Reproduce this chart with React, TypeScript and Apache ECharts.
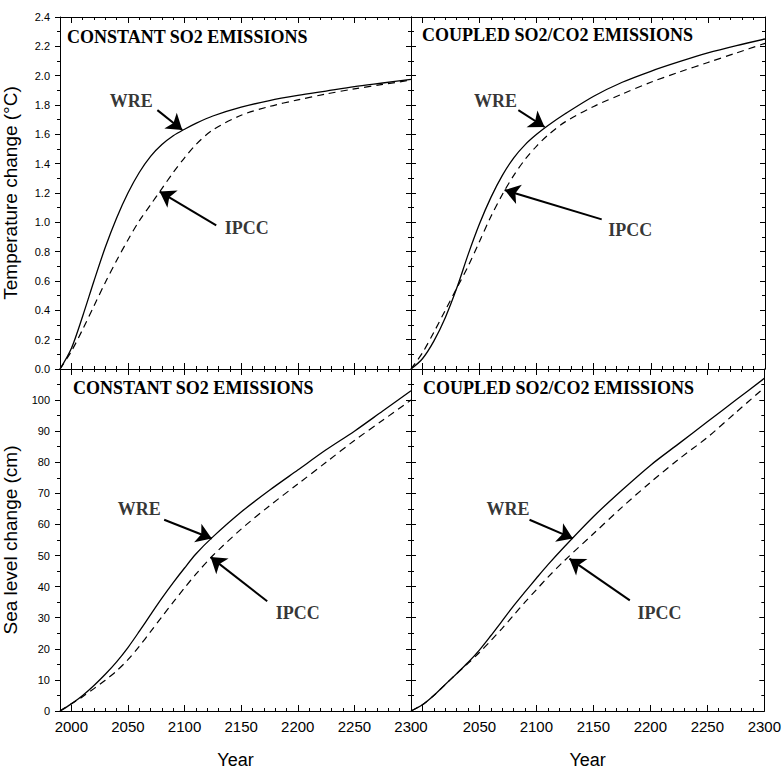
import React, { useEffect, useRef } from "react";
import * as echarts from "echarts";

// ---- data ----
const YEARS = [1990, 2000, 2010, 2020, 2030, 2040, 2050, 2060, 2070, 2080, 2090, 2100, 2110, 2125, 2150, 2175, 2200, 2225, 2250, 2275, 2300];

const TEMP_CONST_WRE = [0, 0.14, 0.36, 0.6, 0.83, 1.03, 1.2, 1.34, 1.45, 1.53, 1.59, 1.635, 1.675, 1.725, 1.785, 1.83, 1.865, 1.895, 1.925, 1.95, 1.975];
const TEMP_CONST_IPCC = [0, 0.12, 0.27, 0.43, 0.59, 0.74, 0.88, 1.01, 1.12, 1.23, 1.34, 1.44, 1.53, 1.63, 1.73, 1.79, 1.835, 1.875, 1.91, 1.94, 1.97];

const TEMP_COUPLED_WRE = [0, 0.07, 0.19, 0.35, 0.55, 0.78, 0.99, 1.17, 1.32, 1.44, 1.53, 1.6, 1.66, 1.74, 1.86, 1.955, 2.03, 2.095, 2.155, 2.205, 2.25];
const TEMP_COUPLED_IPCC = [0, 0.11, 0.25, 0.4, 0.55, 0.7, 0.87, 1.04, 1.19, 1.32, 1.43, 1.52, 1.595, 1.685, 1.79, 1.875, 1.955, 2.025, 2.09, 2.155, 2.22];

const SEA_CONST_WRE = [0, 2.3, 5, 8.2, 11.8, 15.8, 20.4, 25.6, 31, 36.3, 41.3, 46, 50.5, 56, 64, 71, 77.5, 84, 90, 96.5, 103];
const SEA_CONST_IPCC = [0, 2.3, 4.6, 7.2, 9.9, 12.9, 16.5, 20.8, 25.5, 30.3, 35, 39.6, 44, 50, 58.5, 66, 73, 80, 87, 93.5, 100];

const SEA_COUPLED_WRE = [0, 2, 5, 8.5, 12, 15.6, 19.6, 24.2, 29, 33.8, 38.3, 42.7, 47, 53, 62.5, 71, 79, 86, 93, 100, 107];
const SEA_COUPLED_IPCC = [0, 2, 5, 8.5, 12, 15.3, 18.8, 22.6, 26.6, 30.8, 35, 39, 43, 48.5, 57, 65.5, 73.5, 81, 88, 96, 104];

const X_MAJOR = [2000, 2050, 2100, 2150, 2200, 2250, 2300];
const X_MINOR = [2000, 2010, 2020, 2030, 2040, 2050, 2060, 2070, 2080, 2090, 2100, 2110, 2120, 2130, 2140, 2150, 2160, 2170, 2180, 2190, 2200, 2210, 2220, 2230, 2240, 2250, 2260, 2270, 2280, 2290, 2300];
const X_LABELS_LEFT = [2000, 2050, 2100, 2150, 2200, 2250, 2300];
const X_LABELS_RIGHT = [2050, 2100, 2150, 2200, 2250, 2300];

// annotation anchors in data space: [label, tail, tip]
const NOTE_TL_WRE = [[2053, 1.83], [2076, 1.765], [2098, 1.63]];
const NOTE_TL_IPCC = [[2155, 0.96], [2128, 0.98], [2078, 1.21]];
const NOTE_TR_WRE = [[2064, 1.83], [2084, 1.765], [2107, 1.65]];
const NOTE_TR_IPCC = [[2182, 0.95], [2157, 1.02], [2072, 1.22]];
const NOTE_BL_WRE = [[2060, 65], [2082, 61.5], [2124, 55.5]];
const NOTE_BL_IPCC = [[2200, 31.5], [2173, 35.3], [2123, 49.5]];
const NOTE_BR_WRE = [[2075, 65], [2094, 61.5], [2132, 55.5]];
const NOTE_BR_IPCC = [[2208, 31.5], [2182, 35.6], [2129, 49]];

const SANS = "Liberation Sans, Arial, sans-serif";
const SERIF = "Liberation Serif, Times New Roman, serif";

function pairs(vals: number[]) {
  return YEARS.map((y, i) => [y, vals[i]]);
}

type Panel = {
  grid: { left: number; top: number; width: number; height: number };
  yMax: number;
  yInt: number;
  wre: number[];
  ipcc: number[];
  leftSide: boolean;
  bottomRow: boolean;
  xLabels: number[];
  yName: string;
  title: string;
  titlePos: [number, number];
  noteWre: number[][];
  noteIpcc: number[][];
};

const panels: Panel[] = [
  { grid: { left: 60, top: 17, width: 351, height: 352 }, yMax: 2.4, yInt: 0.2, wre: TEMP_CONST_WRE, ipcc: TEMP_CONST_IPCC, leftSide: true, bottomRow: false, xLabels: X_LABELS_LEFT, yName: "Temperature change (°C)", title: "CONSTANT SO2 EMISSIONS", titlePos: [67, 28], noteWre: NOTE_TL_WRE, noteIpcc: NOTE_TL_IPCC },
  { grid: { left: 411, top: 17, width: 354, height: 352 }, yMax: 2.4, yInt: 0.2, wre: TEMP_COUPLED_WRE, ipcc: TEMP_COUPLED_IPCC, leftSide: false, bottomRow: false, xLabels: X_LABELS_RIGHT, yName: "", title: "COUPLED SO2/CO2 EMISSIONS", titlePos: [422, 26], noteWre: NOTE_TR_WRE, noteIpcc: NOTE_TR_IPCC },
  { grid: { left: 60, top: 369, width: 351, height: 348 }, yMax: 110, yInt: 10, wre: SEA_CONST_WRE, ipcc: SEA_CONST_IPCC, leftSide: true, bottomRow: true, xLabels: X_LABELS_LEFT, yName: "Sea level change (cm)", title: "CONSTANT SO2 EMISSIONS", titlePos: [73, 379], noteWre: NOTE_BL_WRE, noteIpcc: NOTE_BL_IPCC },
  { grid: { left: 411, top: 369, width: 354, height: 348 }, yMax: 110, yInt: 10, wre: SEA_COUPLED_WRE, ipcc: SEA_COUPLED_IPCC, leftSide: false, bottomRow: true, xLabels: X_LABELS_RIGHT, yName: "", title: "COUPLED SO2/CO2 EMISSIONS", titlePos: [423, 379], noteWre: NOTE_BR_WRE, noteIpcc: NOTE_BR_IPCC },
];

function buildOption() {
  const grid: any[] = [];
  const xAxis: any[] = [];
  const yAxis: any[] = [];
  const series: any[] = [];
  const title: any[] = [];
  const line = { show: true, onZero: false, lineStyle: { color: "#000", width: 1 } };

  panels.forEach((p, i) => {
    grid.push({ ...p.grid, containLabel: false });
    const xBase = { type: "value", gridIndex: i, min: 1990, max: 2300, splitLine: { show: false } };
    const xMain = xAxis.length;
    xAxis.push({
      ...xBase,
      position: "bottom",
      axisLine: line,
      axisTick: { show: true, inside: true, length: 6, customValues: X_MAJOR, lineStyle: { color: "#000" } },
      axisLabel: {
        show: p.bottomRow,
        customValues: p.xLabels,
        color: "#000",
        fontFamily: SANS,
        fontSize: 15,
        margin: 8,
        formatter: (v: number) => String(v),
      },
      name: p.bottomRow ? "Year" : "",
      nameLocation: "middle",
      nameGap: 40,
      nameTextStyle: { color: "#000", fontFamily: SANS, fontSize: 18 },
    });
    xAxis.push({
      ...xBase,
      position: "bottom",
      axisLine: { show: false, onZero: false },
      axisTick: { show: true, inside: true, length: 3, customValues: X_MINOR, lineStyle: { color: "#000" } },
      axisLabel: { show: false },
    });
    xAxis.push({
      ...xBase,
      position: "top",
      axisLine: line,
      axisTick: { show: true, inside: true, length: 6, customValues: X_MAJOR, lineStyle: { color: "#000" } },
      axisLabel: { show: false },
    });
    xAxis.push({
      ...xBase,
      position: "top",
      axisLine: { show: false, onZero: false },
      axisTick: { show: true, inside: true, length: 3, customValues: X_MINOR, lineStyle: { color: "#000" } },
      axisLabel: { show: false },
    });

    const yBase = { type: "value", gridIndex: i, min: 0, max: p.yMax, interval: p.yInt, splitLine: { show: false } };
    const yMain = yAxis.length;
    yAxis.push({
      ...yBase,
      position: "left",
      axisLine: line,
      axisTick: { show: true, inside: !p.leftSide, length: 5, lineStyle: { color: "#000" } },
      minorTick: { show: true, splitNumber: 2, length: 3, lineStyle: { color: "#000" } },
      axisLabel: {
        show: p.leftSide,
        color: "#000",
        fontFamily: SANS,
        fontSize: 11,
        margin: 10,
        formatter: (v: number) => (p.yMax > 10 ? (v >= 110 ? "" : String(v)) : v.toFixed(1)),
      },
      name: p.yName,
      nameLocation: "middle",
      nameGap: 40,
      nameTextStyle: { color: "#000", fontFamily: SANS, fontSize: 19 },
    });
    yAxis.push({
      ...yBase,
      position: "right",
      axisLine: line,
      axisTick: { show: true, inside: true, length: 5, lineStyle: { color: "#000" } },
      minorTick: { show: true, splitNumber: 2, length: 3, lineStyle: { color: "#000" } },
      axisLabel: { show: false },
    });

    const arrow = (n: number[][]) => ({
      silent: true,
      symbol: ["none", "arrow"],
      symbolSize: 15,
      lineStyle: { color: "#000", width: 2, type: "solid" },
      label: { show: false },
      emphasis: { disabled: true },
      data: [[{ coord: n[1] }, { coord: n[2] }]],
    });

    series.push({
      type: "line",
      xAxisIndex: xMain,
      yAxisIndex: yMain,
      data: pairs(p.wre),
      showSymbol: false,
      smooth: 0.3,
      lineStyle: { color: "#000", width: 1.3, type: "solid" },
      markLine: arrow(p.noteWre),
      z: 3,
    });
    series.push({
      type: "line",
      xAxisIndex: xMain,
      yAxisIndex: yMain,
      data: pairs(p.ipcc),
      showSymbol: false,
      smooth: 0.3,
      lineStyle: { color: "#000", width: 1.2, type: [7, 5] },
      markLine: arrow(p.noteIpcc),
      z: 3,
    });
    series.push({
      type: "scatter",
      xAxisIndex: xMain,
      yAxisIndex: yMain,
      symbolSize: 1,
      itemStyle: { color: "rgba(0,0,0,0)" },
      silent: true,
      label: {
        show: true,
        position: "inside",
        formatter: "{b}",
        color: "#000",
        fontFamily: SERIF,
        fontWeight: "bold",
        fontSize: 18,
      },
      data: [
        { name: "WRE", value: p.noteWre[0] },
        { name: "IPCC", value: p.noteIpcc[0] },
      ],
    });

    title.push({
      text: p.title,
      left: p.titlePos[0],
      top: p.titlePos[1],
      padding: 0,
      textStyle: { color: "#000", fontFamily: SERIF, fontWeight: "bold", fontSize: 18 },
    });
  });

  return {
    animation: false,
    backgroundColor: "#fff",
    title,
    grid,
    xAxis,
    yAxis,
    series,
  };
}

export default function App() {
  const ref = useRef<HTMLDivElement>(null);
  useEffect(() => {
    if (!ref.current) return;
    const chart = echarts.init(ref.current, null, { renderer: "svg" });
    chart.setOption(buildOption() as any);
    return () => chart.dispose();
  }, []);
  return (
    <div
      ref={ref}
      style={{ position: "absolute", left: 0, top: 0, width: 784, height: 770, background: "#fff" }}
    />
  );
}
